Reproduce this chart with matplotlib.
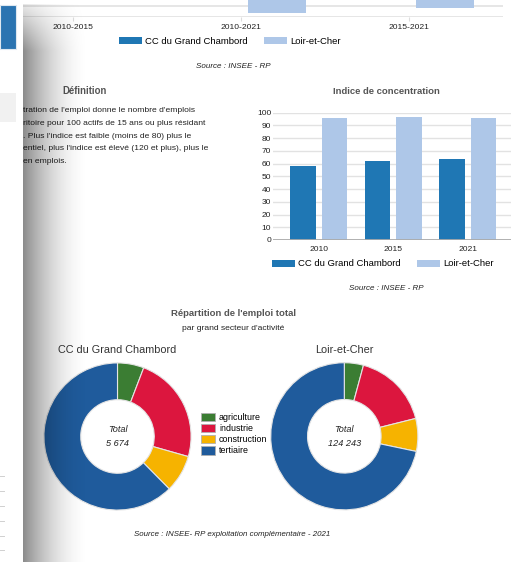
import numpy as np
import matplotlib
matplotlib.use('Agg')
import matplotlib.pyplot as plt
from matplotlib.patches import Rectangle

plt.rcParams['font.family'] = ['Liberation Sans', 'DejaVu Sans']

# --- data ---
periods = ['2010-2015', '2010-2021', '2015-2021']
var_cc = [0.4, -0.2, -0.5]
var_lc = [-0.45, -1.31, -1.12]

years = ['2010', '2015', '2021']
conc_cc = [58.1, 62.0, 63.4]
conc_lc = [96.1, 96.9, 96.1]

sectors = ['agriculture', 'industrie', 'construction', 'tertiaire']
part_cc = [5.8, 23.6, 8.2, 62.4]
part_lc = [4.2, 16.9, 7.2, 71.7]
territories = ['CC du Grand Chambord', 'Loir-et-Cher']
totals = ['5 674', '124 243']

definition = [
    "tration de l'emploi donne le nombre d'emplois",
    "ritoire pour 100 actifs de 15 ans ou plus résidant",
    ". Plus l'indice est faible (moins de 80) plus le",
    "entiel, plus l'indice est élevé (120 et plus), plus le",
    "en emplois.",
]

C_DARK = '#1f77b4'
C_LIGHT = '#aec7e8'
SECTOR_COLORS = ['#3b7d33', '#dc163e', '#f6b300', '#1f5b9c']
TXT = '#222222'
TITLE = '#555555'

W, H = 531, 562
fig = plt.figure(figsize=(W / 100, H / 100), dpi=100)


def box(x0, y0, x1, y1):
    return [x0 / W, 1 - y1 / H, (x1 - x0) / W, (y1 - y0) / H]


def put(x, y, s, **kw):
    kw.setdefault('ha', 'center')
    kw.setdefault('va', 'center')
    kw.setdefault('color', TXT)
    fig.text(x / W, 1 - y / H, s, **kw)


def bar_legend(handles, x, y):
    fig.legend(handles, territories, loc='center', bbox_to_anchor=(x / W, 1 - y / H),
               ncol=2, frameon=False, fontsize=6.8, handlelength=2.4, handleheight=0.8,
               handletextpad=0.35, columnspacing=1.7, borderpad=0)


w, off = 0.345, 0.212

# --- top chart (cut off) ---
ax1 = fig.add_axes(box(23, 0, 503, 17))
x = np.arange(len(periods))
b1 = ax1.bar(x - off, var_cc, w, color=C_DARK, zorder=2)
b2 = ax1.bar(x + off, var_lc, w, color=C_LIGHT, zorder=2)
ax1.set_xlim(-0.295, 2.558)
ax1.set_ylim(-1.5, -0.748)
ax1.set_yticks([-1.5, -1.0])
ax1.yaxis.grid(True, color='#e2e2e2', lw=1.2)
ax1.tick_params(axis='y', length=0, labelleft=False)
ax1.set_xticks(x)
ax1.set_xticklabels(periods, fontsize=6.1, color=TXT)
ax1.tick_params(axis='x', length=3, color='#dddddd', pad=2)
for s in ax1.spines.values():
    s.set_visible(False)
bar_legend([b1, b2], 230, 41.3)
put(233, 67, 'Source : INSEE - RP', fontsize=5.8, style='italic')

# --- définition ---
put(85, 91, 'Définition', fontsize=6.9, fontweight='bold', color=TITLE)
for i, line in enumerate(definition):
    put(23, 110.7 + i * 12.65, line, fontsize=6.1, ha='left')

# --- indice de concentration ---
put(386.7, 91, 'Indice de concentration', fontsize=6.8, fontweight='bold', color=TITLE)
ax2 = fig.add_axes(box(273, 112.7, 511, 240))
x = np.arange(len(years))
b1 = ax2.bar(x - off, conc_cc, w, color=C_DARK, zorder=2)
b2 = ax2.bar(x + off, conc_lc, w, color=C_LIGHT, zorder=2)
ax2.set_xlim(-0.616, 2.583)
ax2.set_ylim(0, 100)
ax2.set_yticks(range(0, 101, 10))
ax2.yaxis.grid(True, color='#e2e2e2', lw=1)
ax2.set_axisbelow(True)
ax2.axhline(0, color='#aaaaaa', lw=2, zorder=3)
ax2.set_xticks(x)
ax2.set_xticklabels(years)
ax2.tick_params(axis='x', length=0, pad=4.5, labelsize=6.1, labelcolor=TXT)
ax2.tick_params(axis='y', length=0, pad=1.2, labelsize=6.0, labelcolor=TXT)
for s in ax2.spines.values():
    s.set_visible(False)
bar_legend([b1, b2], 383, 264)
put(386.7, 289, 'Source : INSEE - RP', fontsize=5.8, style='italic')

# --- répartition de l'emploi ---
put(233, 314, "Répartition de l'emploi total", fontsize=6.8, fontweight='bold', color=TITLE)
put(233, 328, "par grand secteur d'activité", fontsize=6.1)

centers = [(117.5, 436.5), (344.3, 436.3)]
r = 74.3
wedges = None
for (cx, cy), name, parts, tot in zip(centers, territories, [part_cc, part_lc], totals):
    ax = fig.add_axes(box(cx - r, cy - r, cx + r, cy + r))
    wd, _ = ax.pie(parts, colors=SECTOR_COLORS, startangle=90, counterclock=False,
                   radius=1, wedgeprops=dict(width=0.5, edgecolor='#e4e4e4', linewidth=0.8))
    ax.set_xlim(-1.01, 1.01)
    ax.set_ylim(-1.01, 1.01)
    ax.axis('off')
    if wedges is None:
        wedges = wd
    put(cx, 350, name, fontsize=7.8, color='#333333')
    put(cx, 430, 'Total', fontsize=6.6, style='italic')
    put(cx, 444, tot, fontsize=6.6, style='italic')

leg = fig.legend(wedges, sectors, loc='upper left', bbox_to_anchor=(201.2 / W, 1 - 412.8 / H),
                 frameon=False, fontsize=6.4, handlelength=1.6, handleheight=1.1,
                 handletextpad=0.4, labelspacing=0.2, borderpad=0, borderaxespad=0)
for p in leg.get_patches():
    p.set_edgecolor('#b0b0b0')
    p.set_linewidth(0.6)
put(232.5, 535, 'Source : INSEE- RP exploitation complémentaire - 2021', fontsize=5.7, style='italic')

# --- page overlay: side bar and shadow ---
ov = fig.add_axes([0, 0, 1, 1], zorder=20)
ov.patch.set_alpha(0)

gx = np.arange(23, 100) + 0.5
gy = np.arange(0, H) + 0.5
t = np.clip((gx - 23) / 68.0, 0, 1)
shade = 0.46 * (1 - t) ** 1.9
vy = np.where(gy < 4, 0, np.clip(0.2 + (gy - 4) * 0.017, 0, 1))
rgba = np.zeros((len(gy), len(gx), 4))
rgba[..., 3] = vy[:, None] * shade[None, :]
ov.imshow(rgba, extent=(23, 100, H, 0), aspect='auto', interpolation='bilinear')
ov.set_xlim(0, W)
ov.set_ylim(H, 0)
ov.axis('off')

ov.add_patch(Rectangle((0, 0), 23, H, facecolor='white', edgecolor='none'))
ov.add_patch(Rectangle((0, 5), 16, 44, facecolor='#2b74b1', edgecolor='#dfe8f0', lw=0.8))
ov.add_patch(Rectangle((0, 93.3), 16, 28.4, facecolor='#f1f1f1', edgecolor='none'))
for yy in [476, 491, 506, 521, 536, 550]:
    ov.plot([0, 3.5], [yy, yy], color='#d0d0d0', lw=0.7)

fig.savefig('out.png', dpi=100)
